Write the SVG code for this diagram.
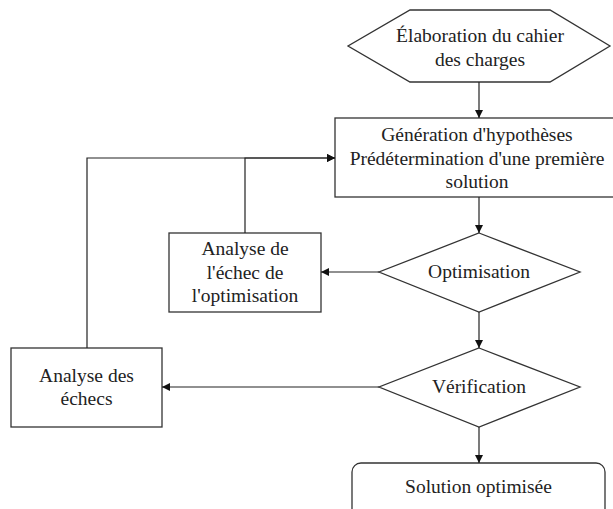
<svg xmlns="http://www.w3.org/2000/svg" width="613" height="509" viewBox="0 0 613 509">
<style>
.shape{fill:#fff;stroke:#333;stroke-width:1.3}
.lbl{font-family:"Liberation Serif","Times New Roman",serif;font-size:19.5px;fill:#222;text-anchor:middle}
.con{fill:none;stroke:#222;stroke-width:1.2}
</style>
<defs>
<marker id="ah" viewBox="0 0 10 10" refX="10" refY="5" markerWidth="8" markerHeight="8" markerUnits="userSpaceOnUse" orient="auto">
<path d="M0,0 L10,5 L0,10 z" fill="#111"/>
</marker>
</defs>
<rect width="613" height="509" fill="#fff"/>
<g id="n-cahier">
<polygon class="shape" points="410,10 550,10 610,46 550,82 410,82 348,46"/>
<text class="lbl" x="480" y="42">Élaboration du cahier</text>
<text class="lbl" x="480" y="66">des charges</text>
</g>
<g id="n-generation">
<rect class="shape" x="335" y="118" width="290" height="79"/>
<text class="lbl" x="477" y="141">Génération d'hypothèses</text>
<text class="lbl" x="477" y="165">Prédétermination d'une première</text>
<text class="lbl" x="477" y="188">solution</text>
</g>
<g id="n-optimisation">
<polygon class="shape" points="479,233 580,272 479,312 379,272"/>
<text class="lbl" x="479" y="278">Optimisation</text>
</g>
<g id="n-analyse-echec">
<rect class="shape" x="169" y="233" width="152" height="79"/>
<text class="lbl" x="245" y="255">Analyse de</text>
<text class="lbl" x="245" y="279">l'échec de</text>
<text class="lbl" x="245" y="302">l'optimisation</text>
</g>
<g id="n-verification">
<polygon class="shape" points="479,348 580,387 479,427 379,387"/>
<text class="lbl" x="479" y="393">Vérification</text>
</g>
<g id="n-analyse-echecs">
<rect class="shape" x="11" y="348" width="151" height="79"/>
<text class="lbl" x="86.5" y="382">Analyse des</text>
<text class="lbl" x="86.5" y="405">échecs</text>
</g>
<g id="n-solution">
<rect class="shape" x="352" y="463" width="253" height="70" rx="9" ry="9"/>
<text class="lbl" x="478.5" y="493">Solution optimisée</text>
</g>
<g id="connectors">
<path class="con" d="M479,82 V118" marker-end="url(#ah)"/>
<path class="con" d="M479,197 V233" marker-end="url(#ah)"/>
<path class="con" d="M379,272 H321" marker-end="url(#ah)"/>
<path class="con" d="M245,233 V158 H335" marker-end="url(#ah)"/>
<path class="con" d="M87,348 V158 H335" marker-end="url(#ah)"/>
<path class="con" d="M479,312 V348" marker-end="url(#ah)"/>
<path class="con" d="M379,387 H162" marker-end="url(#ah)"/>
<path class="con" d="M479,427 V463" marker-end="url(#ah)"/>
</g>
</svg>
